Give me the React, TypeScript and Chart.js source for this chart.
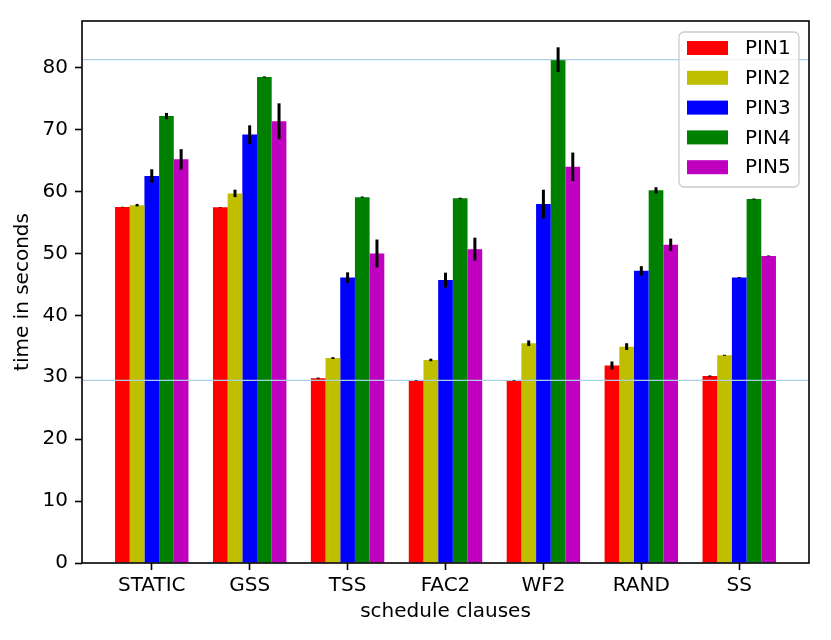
import { useEffect, useRef } from "react";
import { Chart, registerables, type Plugin } from "chart.js";

Chart.register(...registerables);

const categories = ["STATIC", "GSS", "TSS", "FAC2", "WF2", "RAND", "SS"];
const seriesNames = ["PIN1", "PIN2", "PIN3", "PIN4", "PIN5"];
const pin1 = [57.5, 57.45, 29.85, 29.45, 29.45, 31.9, 30.2];
const pin1Err = [0.05, 0.05, 0.1, 0.05, 0.05, 0.65, 0.1];
const pin2 = [57.8, 59.7, 33.1, 32.8, 35.5, 34.95, 33.55];
const pin2Err = [0.2, 0.6, 0.15, 0.2, 0.45, 0.55, 0.08];
const pin3 = [62.5, 69.2, 46.1, 45.7, 58.0, 47.2, 46.1];
const pin3Err = [1.1, 1.5, 0.85, 1.2, 2.3, 0.75, 0.08];
const pin4 = [72.2, 78.5, 59.1, 58.9, 81.3, 60.2, 58.8];
const pin4Err = [0.5, 0.1, 0.1, 0.1, 2.0, 0.5, 0.08];
const pin5 = [65.2, 71.35, 50.0, 50.7, 64.0, 51.4, 49.6];
const pin5Err = [1.65, 2.9, 2.25, 1.85, 2.3, 1.0, 0.08];
const yTicks = [0, 10, 20, 30, 40, 50, 60, 70, 80];
const refLines = [81.3, 29.5];

const colors = ["#ff0000", "#bfbf00", "#0000ff", "#008000", "#bf00bf"];
const values = [pin1, pin2, pin3, pin4, pin5];
const errors = [pin1Err, pin2Err, pin3Err, pin4Err, pin5Err];

const FONT = "'DejaVu Sans', sans-serif";

// hellblaue Linien, Fehlerbalken, Rahmen und Legende wie im matplotlib-Original
const extras: Plugin<"bar"> = {
  id: "extras",
  afterDatasetsDraw(chart) {
    const { ctx, chartArea: a, scales } = chart;
    const y = scales.y;
    ctx.save();
    ctx.strokeStyle = "#a8cfe3";
    ctx.lineWidth = 1.3;
    for (const v of refLines) {
      const py = y.getPixelForValue(v);
      ctx.beginPath();
      ctx.moveTo(a.left, py);
      ctx.lineTo(a.right, py);
      ctx.stroke();
    }
    ctx.strokeStyle = "#000";
    ctx.lineWidth = 3;
    chart.data.datasets.forEach((_, i) => {
      const meta = chart.getDatasetMeta(i);
      meta.data.forEach((bar: any, j) => {
        const v = values[i][j];
        const e = errors[i][j];
        ctx.beginPath();
        ctx.moveTo(bar.x, y.getPixelForValue(v + e));
        ctx.lineTo(bar.x, y.getPixelForValue(v - e));
        ctx.stroke();
      });
    });
    ctx.lineWidth = 1.6;
    ctx.strokeRect(a.left, a.top, a.right - a.left, a.bottom - a.top);

    // Legende
    const bx = a.right - 130, by = a.top + 11, bw = 120, bh = 155;
    ctx.fillStyle = "rgba(255,255,255,0.8)";
    ctx.strokeStyle = "#cccccc";
    ctx.lineWidth = 1.3;
    ctx.beginPath();
    ctx.roundRect(bx, by, bw, bh, 5);
    ctx.fill();
    ctx.stroke();
    ctx.font = `20px ${FONT}`;
    ctx.textBaseline = "middle";
    seriesNames.forEach((name, i) => {
      const cy = by + 16 + i * 29.8;
      ctx.fillStyle = colors[i];
      ctx.fillRect(bx + 8, cy - 7, 41, 14);
      ctx.fillStyle = "#000";
      ctx.fillText(name, bx + 66, cy + 1);
    });
    ctx.restore();
  },
};

export default function App() {
  const ref = useRef<HTMLCanvasElement>(null);

  useEffect(() => {
    document.body.style.margin = "0";
    if (!ref.current) return;
    const chart = new Chart(ref.current, {
      type: "bar",
      data: {
        datasets: seriesNames.map((name, i) => ({
          label: name,
          data: values[i].map((v, j) => ({ x: j, y: v })),
          backgroundColor: colors[i],
          borderWidth: 0,
        })),
      },
      options: {
        responsive: false,
        animation: false,
        layout: { padding: { top: 21, right: 22, left: 0, bottom: 0 } },
        datasets: { bar: { categoryPercentage: 0.75, barPercentage: 1 } },
        plugins: { legend: { display: false }, tooltip: { enabled: false } },
        scales: {
          x: {
            type: "linear",
            min: -0.7125,
            max: 6.7125,
            offset: false,
            afterBuildTicks: (axis) => {
              axis.ticks = categories.map((_, i) => ({ value: i }));
            },
            afterFit: (axis) => {
              axis.height = 77;
            },
            border: { display: false },
            grid: {
              offset: false,
              drawOnChartArea: false,
              drawTicks: true,
              tickLength: 7,
              tickWidth: 1.6,
              tickColor: "#000",
            },
            ticks: {
              autoSkip: false,
              maxRotation: 0,
              padding: 4,
              color: "#000",
              font: { family: FONT, size: 20 },
              callback: (v) => categories[Number(v)] ?? "",
            },
            title: {
              display: true,
              text: "schedule clauses",
              color: "#000",
              font: { family: FONT, size: 20 },
              padding: { top: 16, bottom: 16 },
            },
          },
          y: {
            min: 0,
            max: 87.55,
            afterBuildTicks: (axis) => {
              axis.ticks = yTicks.map((v) => ({ value: v }));
            },
            afterFit: (axis) => {
              axis.width = 82;
            },
            border: { display: false },
            grid: {
              drawOnChartArea: false,
              drawTicks: true,
              tickLength: 7,
              tickWidth: 1.6,
              tickColor: "#000",
            },
            ticks: {
              padding: 7,
              color: "#000",
              font: { family: FONT, size: 20 },
            },
            title: {
              display: true,
              text: "time in seconds",
              color: "#000",
              font: { family: FONT, size: 20 },
              padding: { top: 11, bottom: 11 },
            },
          },
        },
      },
      plugins: [extras],
    });
    return () => chart.destroy();
  }, []);

  return (
    <div style={{ width: 831, height: 640 }}>
      <canvas ref={ref} width={831} height={640} />
    </div>
  );
}
